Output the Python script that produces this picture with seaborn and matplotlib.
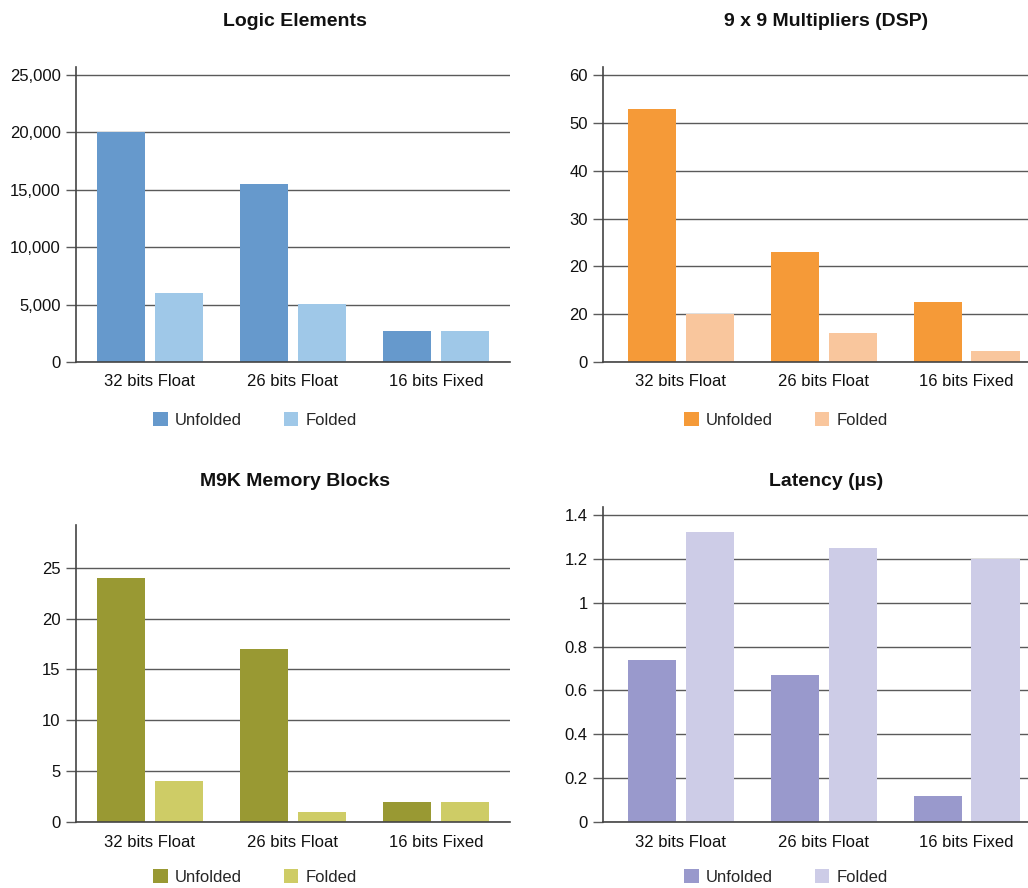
import matplotlib
matplotlib.use("Agg")
import matplotlib.pyplot as plt
import seaborn as sns
import pandas as pd
from matplotlib.ticker import FuncFormatter, FixedLocator

sns.set_theme(style="white")
plt.rcParams['font.family'] = ['Liberation Sans', 'DejaVu Sans']

categories = ["32 bits Float", "26 bits Float", "16 bits Fixed"]
series = ["Unfolded", "Folded"]

logic_unfolded = [20000, 15500, 2700]
logic_folded = [6000, 5050, 2700]

dsp_unfolded = [53, 23, 12.5]
dsp_folded = [10, 6, 2.3]
dsp_ticks = [0, 10, 20, 30, 40, 50, 60]
dsp_tick_labels = ["0", "20", "20", "30", "40", "50", "60"]

m9k_unfolded = [24, 17, 2]
m9k_folded = [4, 1, 2]

lat_unfolded = [0.74, 0.67, 0.12]
lat_folded = [1.32, 1.25, 1.2]

titles = ["Logic Elements", "9 x 9 Multipliers (DSP)", "M9K Memory Blocks", "Latency (µs)"]
palettes = [
    ["#6699CC", "#9FC8E8"],
    ["#F59A38", "#F9C69D"],
    ["#999933", "#CECC66"],
    ["#9999CC", "#CDCCE7"],
]

W, H = 1028, 888
fig = plt.figure(figsize=(W / 100, H / 100), dpi=100)


def box(l, r, t, b):
    return [l / W, 1 - b / H, (r - l) / W, (b - t) / H]


panels = [
    dict(u=logic_unfolded, f=logic_folded, rect=box(76, 510, 67, 362), ylim=25700,
         ticks=[0, 5000, 10000, 15000, 20000, 25000], labels=None,
         fmt=lambda v, p: f"{int(v):,}", xlim=(-0.517, 2.518),
         title_xy=(295, 21), leg_y=420),
    dict(u=dsp_unfolded, f=dsp_folded, rect=box(603, 1028, 67, 362), ylim=61.7,
         ticks=dsp_ticks, labels=dsp_tick_labels, fmt=None, xlim=(-0.545, 2.43),
         title_xy=(826, 21), leg_y=420),
    dict(u=m9k_unfolded, f=m9k_folded, rect=box(76, 510, 525, 822), ylim=29.2,
         ticks=[0, 5, 10, 15, 20, 25], labels=None,
         fmt=lambda v, p: f"{v:g}", xlim=(-0.517, 2.518),
         title_xy=(295, 481), leg_y=877),
    dict(u=lat_unfolded, f=lat_folded, rect=box(603, 1028, 507, 822), ylim=1.436,
         ticks=[0, 0.2, 0.4, 0.6, 0.8, 1.0, 1.2, 1.4], labels=None,
         fmt=lambda v, p: f"{v:g}", xlim=(-0.545, 2.43),
         title_xy=(826, 481), leg_y=877),
]

grid_c = "#5a5a5a"
spine_c = "#444444"

for i, p in enumerate(panels):
    ax = fig.add_axes(p["rect"])
    df = pd.DataFrame({
        "Category": categories * 2,
        "Series": [series[0]] * 3 + [series[1]] * 3,
        "Value": p["u"] + p["f"],
    })
    sns.barplot(data=df, x="Category", y="Value", hue="Series", order=categories,
                hue_order=series, palette=palettes[i], width=0.81, gap=0.17,
                saturation=1, ax=ax, zorder=2, legend=True,
                edgecolor="none", linewidth=0)
    ax.set_xlim(*p["xlim"])
    ax.set_ylim(0, p["ylim"])
    ax.yaxis.set_major_locator(FixedLocator(p["ticks"]))
    if p["labels"] is not None:
        ax.set_yticklabels(p["labels"])
    else:
        ax.yaxis.set_major_formatter(FuncFormatter(p["fmt"]))
    ax.set_xlabel("")
    ax.set_ylabel("")
    ax.grid(axis="y", color=grid_c, linewidth=1.0, zorder=0)
    ax.grid(axis="x", visible=False)
    ax.set_axisbelow(True)
    for s in ["top", "right"]:
        ax.spines[s].set_visible(False)
    for s in ["left", "bottom"]:
        ax.spines[s].set_color(spine_c)
        ax.spines[s].set_linewidth(1.2)
    ax.tick_params(axis="y", direction="out", length=7, width=1.0, color=grid_c,
                   labelsize=12, labelcolor="#111111", pad=4, left=True)
    ax.tick_params(axis="x", length=0, labelsize=12, labelcolor="#111111", pad=9)

    handles, labels = ax.get_legend_handles_labels()
    ax.get_legend().remove()
    fig.legend(handles, labels, loc="center",
               bbox_to_anchor=((p["title_xy"][0] - 40) / W, 1 - p["leg_y"] / H),
               ncol=2, frameon=False, fontsize=12, handlelength=0.85, handleheight=0.85,
               handletextpad=0.45, columnspacing=2.5, borderaxespad=0)
    fig.text(p["title_xy"][0] / W, 1 - p["title_xy"][1] / H, titles[i],
             ha="center", va="center", fontsize=14, fontweight="bold", color="#111111")

fig.savefig("out.png", dpi=100, facecolor="white")
